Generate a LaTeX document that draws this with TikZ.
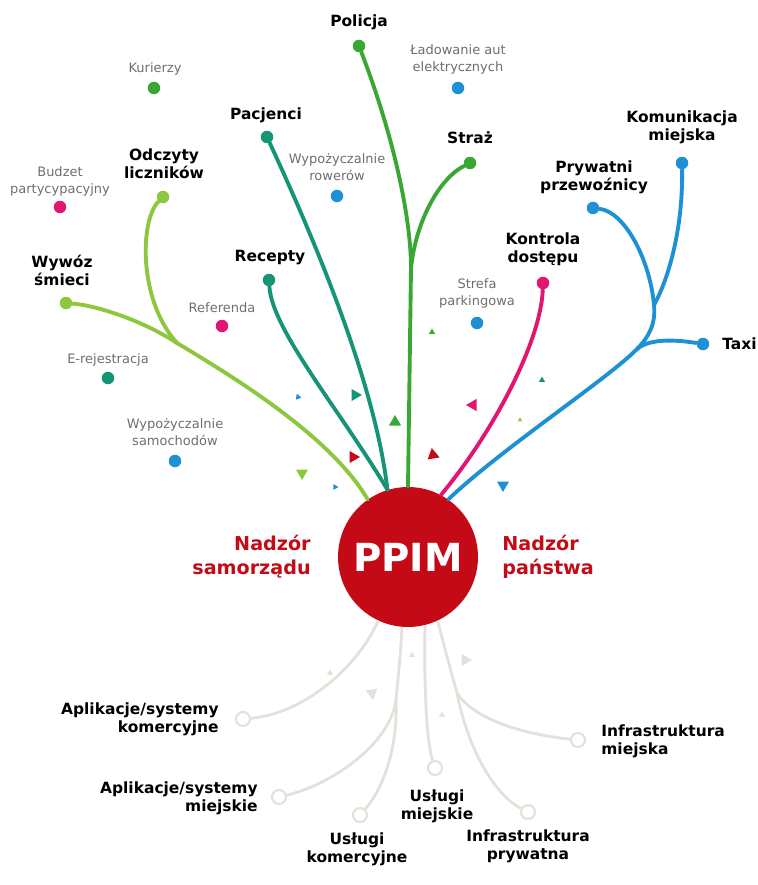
\documentclass[tikz,border=0pt]{standalone}
\usepackage{fontspec}
\setmainfont{DejaVu Sans}
\usetikzlibrary{shapes.geometric, positioning}

\definecolor{limeg}{RGB}{141,198,63}
\definecolor{tealg}{RGB}{22,148,118}
\definecolor{leafg}{RGB}{58,166,52}
\definecolor{rosec}{RGB}{226,22,112}
\definecolor{skyb}{RGB}{30,144,214}
\definecolor{ppimred}{RGB}{196,10,22}
\definecolor{fadeg}{RGB}{228,225,218}
\definecolor{txtg}{RGB}{110,110,110}

\tikzset{
  blob/.style={circle, fill=#1, inner sep=0pt, minimum size=0.25cm},
  ring/.style={circle, draw=fadeg, line width=1.2pt, fill=white, inner sep=0pt, minimum size=0.28cm},
  branch/.style={draw=#1, line width=2.2pt, line cap=round},
  faint/.style={draw=fadeg, line width=1.6pt},
  lbl/.style={font=\bfseries\fontsize{8.8}{10.2}\selectfont, align=center, inner sep=0pt},
  minor/.style={font=\fontsize{7.4}{9.6}\selectfont, text=txtg, align=center, inner sep=0pt},
  conf/.style={regular polygon, regular polygon sides=3, fill=#1, inner sep=0pt, minimum size=0.28cm},
  speck/.style={regular polygon, regular polygon sides=3, fill=#1, inner sep=0pt, minimum size=0.14cm},
}

\begin{document}
\begin{tikzpicture}[x=0.02cm, y=-0.02cm]
    \useasboundingbox (0,0) rectangle (757,885);

    % centre
    \node[circle, fill=ppimred, minimum size=2.8cm, inner sep=0pt, text=white,
          font=\bfseries\fontsize{22}{22}\selectfont] (ppim) at (408,557) {PPIM};
    \node[lbl, text=ppimred, font=\bfseries\fontsize{10.9}{13.6}\selectfont, anchor=east, align=right] (samorzad) at (311,557) {Nadzór\\samorządu};
    \node[lbl, text=ppimred, font=\bfseries\fontsize{10.9}{13.6}\selectfont, anchor=west, align=left] (panstwo) at (502,557) {Nadzór\\państwa};

    % end points of the branches
    \node[blob=limeg] (wywoz) at (66,303) {};
    \node[blob=limeg] (odczyty) at (163,197) {};
    \node[blob=tealg] (pacjenci) at (267,137) {};
    \node[blob=tealg] (recepty) at (269,280) {};
    \node[blob=leafg] (policja) at (359,46) {};
    \node[blob=leafg] (straz) at (470,163) {};
    \node[blob=rosec] (kontrola) at (543,283) {};
    \node[blob=skyb] (komunikacja) at (682,163) {};
    \node[blob=skyb] (prywatni) at (593,208) {};
    \node[blob=skyb] (taxi) at (703,344) {};

    % loose dots
    \node[blob=leafg] (kurierzy) at (154,88) {};
    \node[blob=skyb] (ladowanie) at (458,88) {};
    \node[blob=skyb] (rowery) at (337,196) {};
    \node[blob=rosec] (budzet) at (60,207) {};
    \node[blob=rosec] (referenda) at (222,326) {};
    \node[blob=tealg] (erej) at (108,378) {};
    \node[blob=skyb] (samochody) at (175,461) {};
    \node[blob=skyb] (strefa) at (477,323) {};

    % lime branch
    \coordinate (limej) at (177,343);
    \draw[branch=limeg] (wywoz) .. controls (100,306) and (145,322) .. (limej) .. controls (230,375) and (330,435) .. (ppim.125);
    \draw[branch=limeg] (odczyty) .. controls (140,220) and (138,300) .. (limej);

    % teal branch
    \draw[branch=tealg] (pacjenci) .. controls (310,230) and (375,380) .. (ppim.107);
    \draw[branch=tealg] (recepty) .. controls (272,330) and (340,410) .. (ppim.107);

    % green branch
    \coordinate (leafj) at (411,268);
    \draw[branch=leafg] (policja) .. controls (395,140) and (411,220) .. (leafj) -- (ppim.90);
    \draw[branch=leafg] (straz) .. controls (440,178) and (416,220) .. (leafj);

    % pink branch
    \draw[branch=rosec] (kontrola) .. controls (541,340) and (495,430) .. (ppim.62);

    % blue branch
    \coordinate (skyj) at (654,305);
    \coordinate (taxij) at (636,350);
    \draw[branch=skyb] (komunikacja) .. controls (683,230) and (668,280) .. (skyj);
    \draw[branch=skyb] (prywatni) .. controls (625,212) and (650,260) .. (skyj) .. controls (656,325) and (648,338) .. (taxij) .. controls (606,380) and (500,450) .. (ppim.55);
    \draw[branch=skyb] (taxi) .. controls (665,338) and (645,341) .. (taxij);

    % faded lower branches
    \node[ring] (akom) at (243,719) {};
    \node[ring] (amiej) at (279,797) {};
    \node[ring] (ukom) at (360,815) {};
    \node[ring] (umiej) at (435,768) {};
    \node[ring] (imiej) at (578,740) {};
    \node[ring] (ipryw) at (528,812) {};
    \coordinate (fadej) at (396,700);
    \coordinate (infj) at (457,693);
    \draw[faint] (akom) .. controls (300,714) and (355,672) .. (ppim.245);
    \draw[faint] (ppim.265) .. controls (401,650) and (398,680) .. (fadej);
    \draw[faint] (fadej) .. controls (390,745) and (330,785) .. (amiej);
    \draw[faint] (fadej) .. controls (398,750) and (382,790) .. (ukom);
    \draw[faint] (ppim.284) .. controls (424,680) and (426,740) .. (umiej);
    \draw[faint] (ppim.295) .. controls (445,650) and (452,675) .. (infj);
    \draw[faint] (infj) .. controls (478,725) and (540,736) .. (imiej);
    \draw[faint] (infj) .. controls (468,750) and (495,795) .. (ipryw);

    % bold labels
    \node[lbl] (policjaT) at (359,22) {Policja};
    \node[lbl] (pacjenciT) at (266,115) {Pacjenci};
    \node[lbl] (odczytyT) at (164,164) {Odczyty\\liczników};
    \node[lbl] (wywozT) at (62,270) {Wywóz\\śmieci};
    \node[lbl] (receptyT) at (270,258) {Recepty};
    \node[lbl] (strazT) at (470,138) {Straż};
    \node[lbl] (komunikacjaT) at (682,127) {Komunikacja\\miejska};
    \node[lbl] (prywatniT) at (594,177) {Prywatni\\przewoźnicy};
    \node[lbl] (kontrolaT) at (543,249) {Kontrola\\dostępu};
    \node[lbl, anchor=west] (taxiT) at (722,344) {Taxi};

    % small labels
    \node[minor] (kurierzyT) at (155,69) {Kurierzy};
    \node[minor] (ladowanieT) at (458,59) {Ładowanie aut\\elektrycznych};
    \node[minor] (roweryT) at (337,167) {Wypożyczalnie\\rowerów};
    \node[minor] (budzetT) at (60,181) {Budzet\\partycypacyjny};
    \node[minor] (referendaT) at (222,308) {Referenda};
    \node[minor] (erejT) at (108,360) {E-rejestracja};
    \node[minor] (samochodyT) at (175,432) {Wypożyczalnie\\samochodów};
    \node[minor] (strefaT) at (477,293) {Strefa\\parkingowa};

    % lower labels
    \node[lbl, anchor=east, align=right] (akomT) at (219,719) {Aplikacje/systemy\\komercyjne};
    \node[lbl, anchor=east, align=right] (amiejT) at (258,798) {Aplikacje/systemy\\miejskie};
    \node[lbl] (ukomT) at (357,849) {Usługi\\komercyjne};
    \node[lbl] (umiejT) at (437,806) {Usługi\\miejskie};
    \node[lbl] (iprywT) at (528,846) {Infrastruktura\\prywatna};
    \node[lbl, anchor=west, align=left] (imiejT) at (601,741) {Infrastruktura\\miejska};

    % confetti
    \node[speck=skyb, rotate=-100] (c1) at (298,397) {};
    \node[conf=tealg, rotate=-90] (c2) at (355,395) {};
    \node[conf=leafg] (c3) at (395,422) {};
    \node[conf=ppimred, rotate=-90] (c4) at (353,457) {};
    \node[conf=limeg, rotate=180] (c5) at (302,473) {};
    \node[speck=skyb, rotate=-90] (c6) at (335,487) {};
    \node[conf=ppimred, rotate=10] (c7) at (433,455) {};
    \node[conf=rosec, rotate=90] (c8) at (473,405) {};
    \node[speck=tealg] (c9) at (542,380) {};
    \node[speck=limeg, minimum size=0.11cm] (c10) at (520,420) {};
    \node[conf=skyb, rotate=180] (c11) at (503,485) {};
    \node[speck=leafg] (c12) at (432,332) {};
    \node[conf=fadeg, rotate=-90] (c13) at (465,660) {};
    \node[conf=fadeg, rotate=70] (c14) at (372,693) {};
    \node[speck=fadeg] (c15) at (412,655) {};
    \node[speck=fadeg] (c16) at (442,715) {};
    \node[speck=fadeg] (c17) at (330,673) {};
\end{tikzpicture}
\end{document}
